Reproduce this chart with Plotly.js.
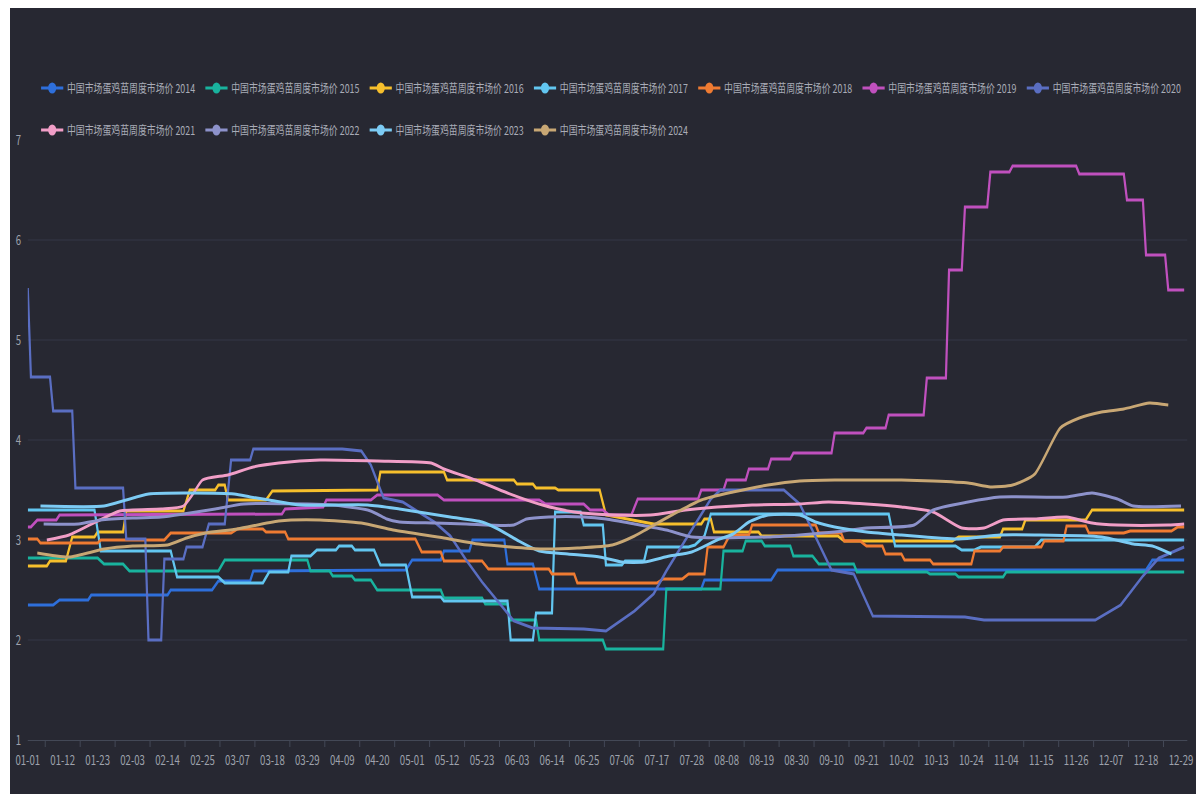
<!DOCTYPE html>
<html><head><meta charset="utf-8">
<script src="https://cdn.plot.ly/plotly-3.0.1.min.js"></script>
<style>
html,body{margin:0;padding:0;background:#ffffff;width:1196px;height:794px;overflow:hidden;}
#wrap{position:absolute;left:10px;top:8px;width:1186px;height:786px;overflow:hidden;background:#272832;}
#chart{width:1603px;height:786px;transform:scaleX(0.74);transform-origin:0 0;}
</style></head><body>
<div id="wrap"><div id="chart"></div></div>
<script>
// ---- categories (a leap-year calendar, MM-DD) ----
const MONTH_DAYS = [31,29,31,30,31,30,31,31,30,31,30,31];
const DATES = [];
MONTH_DAYS.forEach(function(n,m){for(let d=1;d<=n;d++){DATES.push(String(m+1).padStart(2,'0')+'-'+String(d).padStart(2,'0'));}});
const TICK_LABELS = ["01-01","01-12","01-23","02-03","02-14","02-25","03-07","03-18","03-29","04-09","04-20","05-01","05-12","05-23","06-03","06-14","06-25","07-06","07-17","07-28","08-08","08-19","08-30","09-10","09-21","10-02","10-13","10-24","11-04","11-15","11-26","12-07","12-18","12-29"];
const Y_TICKS = [1,2,3,4,5,6,7];

// ---- series values [date, price] ----
const S2014 = [["01-01",2.35],["01-09",2.35],["01-11",2.40],["01-20",2.40],["01-21",2.45],["02-14",2.45],["02-15",2.50],["02-28",2.50],["03-01",2.59],["03-11",2.59],["03-12",2.69],["04-29",2.70],["05-01",2.80],["05-10",2.80],["05-11",2.89],["05-19",2.89],["05-20",3.00],["05-30",3.00],["05-31",2.76],["06-08",2.76],["06-10",2.51],["07-31",2.51],["08-01",2.60],["08-22",2.60],["08-24",2.70],["12-18",2.70],["12-20",2.80],["12-30",2.80]];
const S2015 = [["01-01",2.82],["01-23",2.82],["01-25",2.76],["01-31",2.76],["02-02",2.69],["03-01",2.69],["03-03",2.80],["03-29",2.80],["03-30",2.69],["04-05",2.69],["04-06",2.64],["04-12",2.64],["04-13",2.60],["04-18",2.60],["04-20",2.50],["05-10",2.50],["05-11",2.42],["05-23",2.42],["05-24",2.36],["05-31",2.36],["06-01",2.20],["06-09",2.20],["06-10",2.00],["06-30",2.00],["07-01",1.91],["07-19",1.91],["07-20",2.51],["08-06",2.51],["08-07",2.89],["08-13",2.89],["08-14",2.99],["08-19",2.99],["08-20",2.94],["08-28",2.94],["08-29",2.84],["09-04",2.84],["09-06",2.76],["09-17",2.76],["09-18",2.68],["10-10",2.68],["10-11",2.66],["10-19",2.66],["10-20",2.63],["11-03",2.63],["11-04",2.68],["12-30",2.68]];
const S2016 = [["01-01",2.74],["01-07",2.74],["01-08",2.79],["01-13",2.79],["01-15",3.03],["01-22",3.03],["01-23",3.08],["01-31",3.08],["02-01",3.29],["02-19",3.29],["02-21",3.50],["02-29",3.50],["03-01",3.55],["03-03",3.55],["03-04",3.40],["03-16",3.40],["03-18",3.49],["04-20",3.50],["04-21",3.68],["05-11",3.68],["05-12",3.60],["06-02",3.60],["06-03",3.56],["06-08",3.56],["06-09",3.52],["06-15",3.52],["06-16",3.50],["06-29",3.50],["07-01",3.25],["07-09",3.20],["07-16",3.16],["07-31",3.16],["08-01",3.21],["08-03",3.21],["08-04",3.08],["08-18",3.08],["08-19",3.04],["09-12",3.04],["09-14",2.99],["10-18",2.99],["10-20",3.03],["11-02",3.03],["11-03",3.11],["11-09",3.11],["11-10",3.20],["11-29",3.20],["12-01",3.30],["12-30",3.30]];
const S2017 = [["01-01",3.30],["01-22",3.30],["01-24",2.89],["02-15",2.89],["02-17",2.63],["03-01",2.63],["03-03",2.57],["03-15",2.57],["03-17",2.68],["03-23",2.68],["03-24",2.84],["03-30",2.84],["04-01",2.90],["04-07",2.90],["04-08",2.94],["04-12",2.94],["04-13",2.90],["04-19",2.90],["04-21",2.75],["04-29",2.75],["05-01",2.43],["05-10",2.43],["05-11",2.39],["05-31",2.39],["06-01",2.00],["06-08",2.00],["06-09",2.27],["06-14",2.27],["06-15",3.28],["06-23",3.28],["06-24",3.15],["06-30",3.15],["07-01",2.75],["07-06",2.75],["07-07",2.79],["07-13",2.79],["07-14",2.93],["07-27",2.93],["07-29",2.95],["08-01",3.04],["08-03",3.26],["09-28",3.26],["09-30",2.94],["10-19",2.94],["10-21",2.90],["10-25",2.90],["10-27",2.93],["11-13",2.93],["11-15",3.00],["12-30",3.00]];
const S2018 = [["01-01",3.01],["01-04",3.01],["01-05",2.97],["01-23",2.97],["01-24",3.00],["02-13",3.00],["02-15",3.07],["03-05",3.07],["03-07",3.11],["03-15",3.11],["03-16",3.08],["03-22",3.08],["03-23",3.01],["05-02",3.01],["05-04",2.88],["05-10",2.88],["05-11",2.79],["05-23",2.79],["05-25",2.71],["06-13",2.71],["06-14",2.66],["06-21",2.66],["06-22",2.57],["07-17",2.57],["07-19",2.61],["07-25",2.61],["07-27",2.66],["08-01",2.66],["08-02",2.93],["08-07",2.93],["08-09",3.05],["08-15",3.05],["08-16",3.15],["09-05",3.15],["09-06",3.07],["09-13",3.07],["09-14",2.99],["09-19",2.99],["09-21",2.94],["09-26",2.94],["09-27",2.86],["10-02",2.86],["10-03",2.80],["10-11",2.80],["10-12",2.76],["10-24",2.76],["10-25",2.89],["11-02",2.89],["11-03",2.93],["11-15",2.93],["11-16",2.99],["11-22",2.99],["11-23",3.14],["11-29",3.14],["11-30",3.07],["12-11",3.07],["12-13",3.09],["12-26",3.09],["12-28",3.13],["12-30",3.13]];
const S2019 = [["01-01",3.13],["01-02",3.13],["01-04",3.20],["01-10",3.20],["01-11",3.25],["03-21",3.26],["03-22",3.31],["04-03",3.33],["04-04",3.40],["04-18",3.40],["04-20",3.45],["05-09",3.45],["05-11",3.40],["06-10",3.40],["06-12",3.36],["06-24",3.36],["06-26",3.30],["06-30",3.30],["07-02",3.25],["07-09",3.25],["07-11",3.41],["07-30",3.41],["07-31",3.50],["08-07",3.50],["08-08",3.60],["08-14",3.60],["08-15",3.71],["08-21",3.71],["08-22",3.81],["08-28",3.81],["08-29",3.87],["09-10",3.87],["09-11",4.07],["09-20",4.07],["09-21",4.12],["09-27",4.12],["09-28",4.25],["10-09",4.25],["10-10",4.62],["10-16",4.62],["10-17",5.70],["10-21",5.70],["10-22",6.33],["10-29",6.33],["10-30",6.68],["11-05",6.68],["11-06",6.74],["11-26",6.74],["11-27",6.66],["12-11",6.66],["12-12",6.40],["12-17",6.40],["12-18",5.85],["12-24",5.85],["12-25",5.50],["12-30",5.50]];
const S2020 = [["01-01",5.52],["01-02",4.63],["01-08",4.63],["01-09",4.29],["01-15",4.29],["01-16",3.52],["01-31",3.52],["02-01",3.01],["02-07",3.01],["02-08",2.00],["02-12",2.00],["02-13",2.81],["02-19",2.81],["02-20",2.93],["02-25",2.93],["02-27",3.16],["03-03",3.16],["03-05",3.80],["03-11",3.80],["03-12",3.91],["04-09",3.91],["04-15",3.89],["04-18",3.75],["04-22",3.42],["04-28",3.38],["05-08",3.18],["05-13",3.04],["05-18",2.80],["05-23",2.58],["05-29",2.34],["06-02",2.19],["06-08",2.12],["06-24",2.11],["07-01",2.09],["07-10",2.29],["07-16",2.46],["07-20",2.69],["07-26",3.00],["07-31",3.26],["08-03",3.41],["08-06",3.50],["08-26",3.50],["08-31",3.36],["09-10",2.70],["09-17",2.66],["09-23",2.24],["10-22",2.23],["10-28",2.20],["12-02",2.20],["12-10",2.35],["12-17",2.64],["12-22",2.82],["12-30",2.93]];
const S2021 = [["01-07",3.00],["01-14",3.05],["01-23",3.19],["01-30",3.29],["02-12",3.31],["02-19",3.34],["02-22",3.46],["02-25",3.60],["03-04",3.65],["03-12",3.73],["03-20",3.77],["04-02",3.80],["04-20",3.79],["05-07",3.77],["05-11",3.71],["05-21",3.60],["05-31",3.47],["06-11",3.35],["06-21",3.28],["07-04",3.25],["07-15",3.25],["07-26",3.30],["08-05",3.33],["08-16",3.35],["08-31",3.36],["09-09",3.38],["09-21",3.36],["10-02",3.33],["10-12",3.28],["10-21",3.12],["10-28",3.12],["11-03",3.20],["11-13",3.21],["11-23",3.23],["12-01",3.17],["12-09",3.15],["12-25",3.15],["12-30",3.16]];
const S2022 = [["01-06",3.16],["01-17",3.16],["01-24",3.20],["02-03",3.22],["02-12",3.23],["02-19",3.26],["02-29",3.31],["03-09",3.36],["03-29",3.36],["04-06",3.35],["04-17",3.30],["04-20",3.26],["04-23",3.21],["04-27",3.18],["05-08",3.17],["05-18",3.16],["06-02",3.15],["06-06",3.21],["06-13",3.23],["06-24",3.23],["07-01",3.21],["07-10",3.16],["07-20",3.10],["07-28",3.03],["08-21",3.03],["08-31",3.05],["09-11",3.08],["09-21",3.12],["10-06",3.15],["10-12",3.30],["10-23",3.38],["11-02",3.43],["11-23",3.43],["12-01",3.47],["12-09",3.41],["12-14",3.34],["12-29",3.34]];
const S2023 = [["01-05",3.34],["01-25",3.34],["02-01",3.40],["02-08",3.46],["03-06",3.46],["03-11",3.43],["03-17",3.40],["03-27",3.35],["04-17",3.35],["04-27",3.31],["05-13",3.23],["05-23",3.18],["05-28",3.11],["06-03",3.00],["06-10",2.89],["06-19",2.86],["06-29",2.83],["07-06",2.78],["07-13",2.78],["07-21",2.84],["07-28",2.88],["08-05",3.00],["08-10",3.06],["08-15",3.18],["08-21",3.25],["08-31",3.25],["09-05",3.18],["09-11",3.13],["09-21",3.08],["10-02",3.05],["10-20",3.01],["11-02",3.05],["11-13",3.05],["12-04",3.03],["12-14",2.96],["12-20",2.94],["12-26",2.86]];
const S2024 = [["01-04",2.87],["01-14",2.83],["01-25",2.91],["02-03",2.94],["02-14",2.95],["02-20",3.02],["02-26",3.07],["03-07",3.11],["03-20",3.19],["04-02",3.20],["04-15",3.17],["04-25",3.10],["05-11",3.02],["05-22",2.96],["06-01",2.93],["06-11",2.91],["06-22",2.92],["07-03",2.95],["07-10",3.04],["07-20",3.22],["07-31",3.40],["08-10",3.48],["08-21",3.55],["08-31",3.59],["09-11",3.60],["10-02",3.60],["10-12",3.59],["10-23",3.57],["10-30",3.53],["11-06",3.55],["11-13",3.66],["11-21",4.12],["11-27",4.22],["12-04",4.28],["12-11",4.31],["12-19",4.37],["12-25",4.35]];

const SERIES_NAMES = ["中国市场蛋鸡苗周度市场价 2014","中国市场蛋鸡苗周度市场价 2015","中国市场蛋鸡苗周度市场价 2016","中国市场蛋鸡苗周度市场价 2017","中国市场蛋鸡苗周度市场价 2018","中国市场蛋鸡苗周度市场价 2019","中国市场蛋鸡苗周度市场价 2020","中国市场蛋鸡苗周度市场价 2021","中国市场蛋鸡苗周度市场价 2022","中国市场蛋鸡苗周度市场价 2023","中国市场蛋鸡苗周度市场价 2024"];
const SERIES_DATA = [S2014,S2015,S2016,S2017,S2018,S2019,S2020,S2021,S2022,S2023,S2024];

// ---- styles ----
const COLORS = ['#2e6fdb','#19b39e','#f6bf2c','#62c6f0','#ef7b32','#c050be','#5a6ec2','#f19ec7','#8d92cb','#7ccbf4','#c8a774'];
const SMOOTH = [false,false,false,false,false,false,false,true,true,true,true];
const FONT = "'Noto Sans CJK SC','Noto Sans',sans-serif";

const idx = function(d){return DATES.indexOf(d);};
const traces = [];
SERIES_DATA.forEach(function(s,i){
  traces.push({
    type:'scatter', mode:'lines', name:SERIES_NAMES[i], legendgroup:'g'+i, showlegend:false,
    x:s.map(function(p){return idx(p[0]);}), y:s.map(function(p){return p[1];}),
    line:{color:COLORS[i], width:3, shape:SMOOTH[i]?'spline':'linear', smoothing:0.6},
    hoverinfo:'skip'
  });
});
// legend entries (line + round marker symbol, as in the original legend)
SERIES_DATA.forEach(function(s,i){
  traces.push({
    type:'scatter', mode:'lines+markers', name:SERIES_NAMES[i], legendgroup:'g'+i, showlegend:true,
    x:[null], y:[null],
    line:{color:COLORS[i], width:3}, marker:{color:COLORS[i], size:11},
    legend: i<7 ? 'legend' : 'legend2', hoverinfo:'skip'
  });
});

const tickIdx = TICK_LABELS.map(idx);
const midTicks = tickIdx.map(function(v){return v+5.5;});
const W = 1603, H = 786;
const legendBase = {orientation:'h', xref:'container', yref:'container', x:37/W, xanchor:'left', yanchor:'middle',
  entrywidth:177, font:{family:FONT, size:12, color:'#a9acb7'}, bgcolor:'rgba(0,0,0,0)', itemsizing:'trace', traceorder:'normal'};

const layout = {
  width:W, height:H,
  paper_bgcolor:'#272832', plot_bgcolor:'#272832',
  margin:{l:24, r:12, t:132, b:54, autoexpand:false},
  font:{family:FONT, color:'#9ea2ac'},
  showlegend:true,
  legend:Object.assign({}, legendBase, {y:1-80/H}),
  legend2:Object.assign({}, legendBase, {y:1-122/H}),
  xaxis:{range:[0,365], tickmode:'array', tickvals:tickIdx, ticktext:TICK_LABELS, ticks:'', showgrid:false,
    showline:true, linecolor:'#474d5c', linewidth:1, zeroline:false, automargin:false,
    tickfont:{family:FONT, size:13, color:'#9ea2ac'}, ticklabelstandoff:8,
    minor:{tickmode:'array', tickvals:midTicks, ticks:'outside', ticklen:6, tickcolor:'#474d5c', showgrid:false}},
  yaxis:{range:[1,7], tickmode:'array', tickvals:Y_TICKS, showgrid:true, gridcolor:'#363b4a', gridwidth:1,
    zeroline:false, showline:false, automargin:false, ticks:'',
    tickfont:{family:FONT, size:13, color:'#9ea2ac'}, ticklabelstandoff:8}
};
Plotly.newPlot('chart', traces, layout, {displayModeBar:false, staticPlot:true});
</script>
</body></html>
